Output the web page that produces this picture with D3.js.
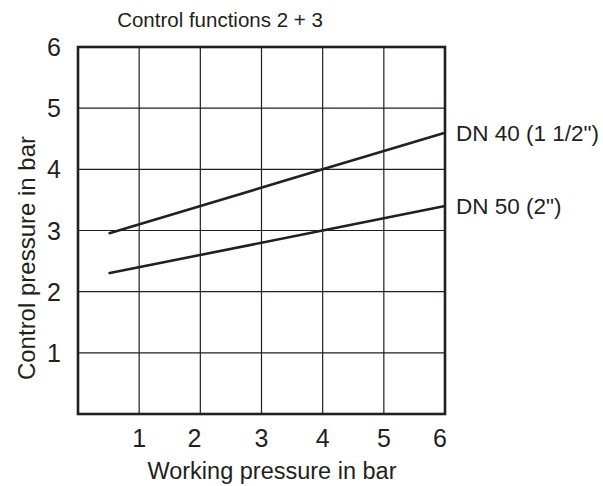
<!DOCTYPE html>
<html lang="en">
<head>
    <meta charset="UTF-8">
    <title>Control functions 2 + 3</title>
    <script src="https://d3js.org/d3.v7.min.js"></script>
    <style>
        body { margin: 0; background: #fff; }
        text { font-family: "Liberation Sans", Arial, sans-serif; fill: #231f20; }
        .grid line { stroke: #231f20; stroke-width: 1.2px; }
        .frame { fill: none; stroke: #231f20; stroke-width: 2.6px; }
        .curve { fill: none; stroke: #231f20; stroke-width: 2.6px; }
    </style>
</head>
<body>
    <svg width="603" height="486"></svg>
    <script>
        // data
        const xTicks = [1, 2, 3, 4, 5, 6];
        const yTicks = [1, 2, 3, 4, 5, 6];
        const seriesNames = ['DN 40 (1 1/2")', 'DN 50 (2")'];
        const workingPressure = [0.5, 4, 6];
        const dn40 = [2.95, 4.0, 4.6];
        const dn50 = [2.3, 3.0, 3.4];

        const width = 603, height = 486;
        const margin = {left: 78, right: 158, top: 47, bottom: 72};
        const svg = d3.select('svg');

        const x = d3.scaleLinear().domain([0, 6]).range([margin.left, width - margin.right]);
        const y = d3.scaleLinear().domain([0, 6]).range([height - margin.bottom, margin.top]);

        // grid
        const grid = svg.append('g').attr('class', 'grid');
        grid.selectAll('.vx').data(xTicks).enter().append('line')
            .attr('x1', d => x(d)).attr('x2', d => x(d))
            .attr('y1', y(0)).attr('y2', y(6));
        grid.selectAll('.hy').data(yTicks).enter().append('line')
            .attr('x1', x(0)).attr('x2', x(6))
            .attr('y1', d => y(d)).attr('y2', d => y(d));

        svg.append('rect').attr('class', 'frame')
            .attr('x', x(0)).attr('y', y(6))
            .attr('width', x(6) - x(0)).attr('height', y(0) - y(6));

        // tick labels
        svg.selectAll('.xl').data(xTicks).enter().append('text')
            .attr('x', d => x(d) - (d === 6 ? 5 : d === 2 ? 6 : 0)).attr('y', y(0) + 33)
            .attr('text-anchor', 'middle').attr('font-size', 25)
            .text(d => d);
        svg.selectAll('.yl').data(yTicks).enter().append('text')
            .attr('x', x(0) - 24).attr('y', d => y(d) + 9)
            .attr('text-anchor', 'middle').attr('font-size', 25)
            .text(d => d);

        // lines
        const line = d3.line().x((d, i) => x(workingPressure[i])).y(d => y(d));
        [dn40, dn50].forEach((s, i) => {
            svg.append('path').attr('class', 'curve').attr('d', line(s));
            svg.append('text')
                .attr('x', x(6) + 11).attr('y', y(s[s.length - 1]) + 8)
                .attr('font-size', 22.5)
                .text(seriesNames[i]);
        });

        // titles
        svg.append('text').attr('x', 220).attr('y', 27)
            .attr('text-anchor', 'middle').attr('font-size', 20.5)
            .text('Control functions 2 + 3');
        svg.append('text').attr('x', 272).attr('y', 479)
            .attr('text-anchor', 'middle').attr('font-size', 23.5)
            .text('Working pressure in bar');
        svg.append('text')
            .attr('transform', 'translate(35,258) rotate(-90)')
            .attr('text-anchor', 'middle').attr('font-size', 24)
            .text('Control pressure in bar');
    </script>
</body>
</html>
